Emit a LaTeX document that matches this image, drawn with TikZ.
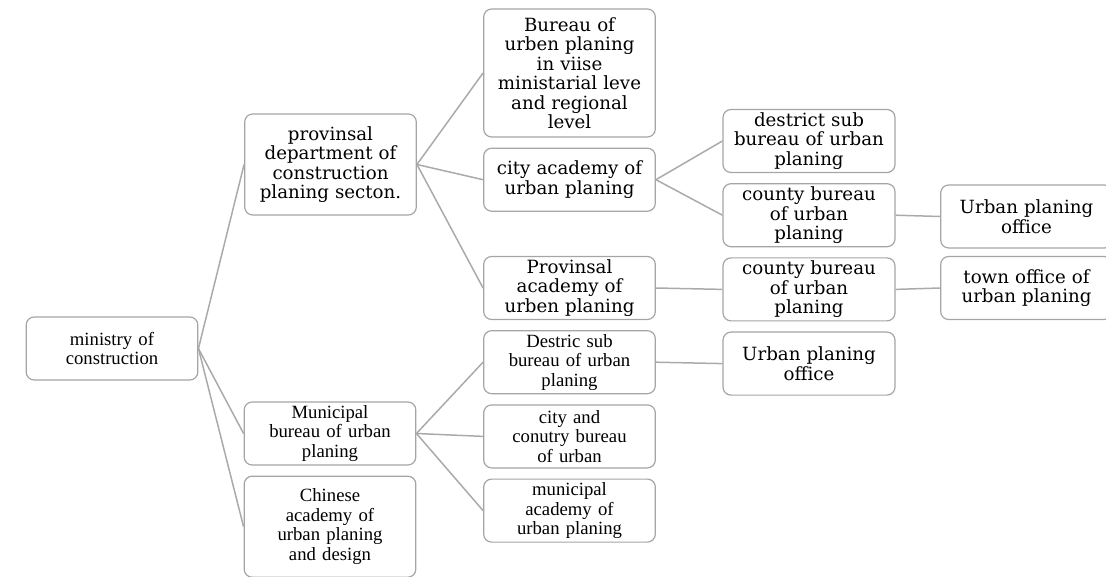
\documentclass[tikz,border=0pt]{standalone}
\usepackage{fontspec}
\newfontfamily\tnr{Liberation Serif}
\newfontfamily\dvs{DejaVu Serif}
\usepackage{tikz}
\usetikzlibrary{positioning}
\definecolor{boxgray}{RGB}{165,165,165}
\definecolor{linegray}{RGB}{170,170,170}

\begin{document}
\begin{tikzpicture}[x=1pt,y=-1pt,
                    node distance=10pt,
                    conn/.style={draw=linegray,line width=1.5pt},
                    wide/.style={font=\dvs\fontsize{18.2}{19.5}\selectfont},
                    every node/.style={draw=boxgray,
                      line width=1.2pt,
                      rectangle,
                      rounded corners=8pt,
                      minimum width = 171pt,
                      minimum height = 63pt,
                      inner ysep=2pt,
                      text width = 165pt,
                      text=black,
                      align=center,
                      font=\tnr\fontsize{18.7}{19.5}\selectfont}]
\useasboundingbox (0,0) rectangle (1106,577);
\node (a) at (112,348.5) [minimum width=170pt] {ministry of\\construction};
\node (b) at (330.5,164.5) [wide,minimum height=101pt] {provinsal\\department of\\construction\\planing secton.};
\node (c) at (330,433.5) {Municipal\\bureau of urban\\planing};
\node (d) [below = of c,minimum height=101pt] {Chinese\\academy of\\urban planing\\and design};
\node (e) at (569.5,73) [wide,minimum height=128pt] {Bureau of\\urben planing\\in viise\\ministarial leve\\and regional\\level};
\node (f) [wide,below = of e] {city academy of\\urban planing};
\node (g) at (569.5,288) [wide] {Provinsal\\academy of\\urben planing};
\node (h) [below = of g] {Destric sub\\bureau of urban\\planing};
\node (i) [below = of h] {city and\\conutry bureau\\of urban};
\node (j) [below = of i] {municipal\\academy of\\urban planing};
\node (k) at (809,141) [wide,minimum width=172pt] {destrict sub\\bureau of urban\\planing};
\node (l) [wide,minimum width=172pt,below = of k] {county bureau\\of urban\\planing};
\node (m) [wide,minimum width=172pt,below = of l] {county bureau\\of urban\\planing};
\node (n) [wide,minimum width=172pt,below = of m] {Urban planing\\office};
\node (o) at (1026.5,216.5) [wide] {Urban planing\\office};
\node (p) at (1026.5,288) [wide] {town office of\\urban planing};
\draw[conn] (a.east) -- (b.west);
\draw[conn] (a.east) -- (c.west);
\draw[conn] (a.east) -- (d.west);
\draw[conn] (b.east) -- (e.west);
\draw[conn] (b.east) -- (f.west);
\draw[conn] (b.east) -- (g.west);
\draw[conn] (f.east) -- (k.west);
\draw[conn] (f.east) -- (l.west);
\draw[conn] (l.east) -- (o.west);
\draw[conn] (g.east) -- (m.west);
\draw[conn] (m.east) -- (p.west);
\draw[conn] (c.east) -- (h.west);
\draw[conn] (c.east) -- (i.west);
\draw[conn] (c.east) -- (j.west);
\draw[conn] (h.east) -- (n.west);
\end{tikzpicture}
\end{document}
